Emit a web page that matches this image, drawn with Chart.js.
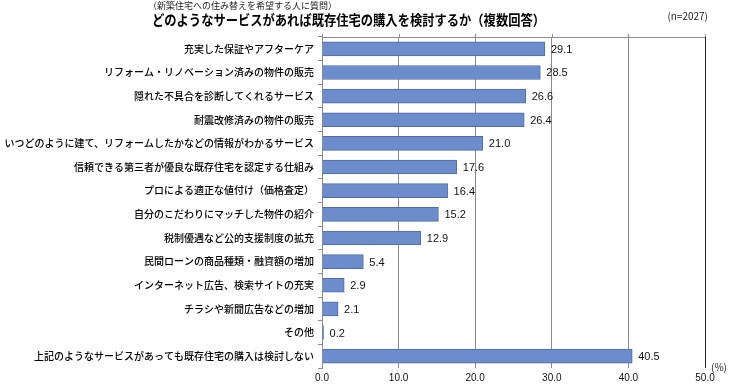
<!DOCTYPE html>
<html>
<head>
<meta charset="utf-8">
<script src="https://cdn.jsdelivr.net/npm/chart.js@4"></script>
<style>
  html, body { margin: 0; padding: 0; background: #fff; }
  #wrap { position: relative; width: 730px; height: 384px; }
</style>
</head>
<body>
<div id="wrap"><canvas id="chart" width="730" height="384"></canvas></div>
<script>
const categories = [
    '充実した保証やアフターケア',
    'リフォーム・リノベーション済みの物件の販売',
    '隠れた不具合を診断してくれるサービス',
    '耐震改修済みの物件の販売',
    'いつどのように建て、リフォームしたかなどの情報がわかるサービス',
    '信頼できる第三者が優良な既存住宅を認定する仕組み',
    'プロによる適正な値付け（価格査定）',
    '自分のこだわりにマッチした物件の紹介',
    '税制優遇など公的支援制度の拡充',
    '民間ローンの商品種類・融資額の増加',
    'インターネット広告、検索サイトの充実',
    'チラシや新聞広告などの増加',
    'その他',
    '上記のようなサービスがあっても既存住宅の購入は検討しない'
];
const values = [29.1, 28.5, 26.6, 26.4, 21.0, 17.6, 16.4, 15.2, 12.9, 5.4, 2.9, 2.1, 0.2, 40.5];
const xTicks = [0, 10, 20, 30, 40, 50];

const font = '"Noto Sans CJK JP", "Liberation Sans", sans-serif';

// value labels, titles, frame lines
const extras = {
    id: 'extras',
    afterDatasetsDraw(chart) {
        const ctx = chart.ctx;
        const area = chart.chartArea;
        const meta = chart.getDatasetMeta(0);
        ctx.save();
        ctx.fillStyle = '#111';
        ctx.font = '11px "Liberation Sans", Arial, sans-serif';
        ctx.textBaseline = 'middle';
        ctx.textAlign = 'left';
        meta.data.forEach((bar, i) => {
            ctx.fillText(values[i].toFixed(1), bar.x + 6, bar.y + 1);
        });

        // top line with small tick marks
        ctx.strokeStyle = '#8c8c8c';
        ctx.lineWidth = 1;
        ctx.beginPath();
        ctx.moveTo(area.left, area.top + 0.5);
        ctx.lineTo(area.right, area.top + 0.5);
        const xs = chart.scales.x;
        xTicks.forEach(t => {
            const px = Math.round(xs.getPixelForValue(t)) + 0.5;
            ctx.moveTo(px, area.top - 3);
            ctx.lineTo(px, area.top);
        });
        ctx.stroke();

        // right border
        ctx.strokeStyle = '#222';
        ctx.beginPath();
        ctx.moveTo(area.right + 0.5, area.top);
        ctx.lineTo(area.right + 0.5, area.bottom);
        ctx.stroke();

        // titles
        ctx.fillStyle = '#222';
        ctx.textBaseline = 'alphabetic';
        ctx.font = '9px ' + font;
        ctx.fillText('（新築住宅への住み替えを希望する人に質問）', 148, 9, 192);
        ctx.fillStyle = '#000';
        ctx.font = 'bold 14px ' + font;
        ctx.fillText('どのようなサービスがあれば既存住宅の購入を検討するか（複数回答）', 152, 25, 393);
        ctx.font = '10px ' + font;
        ctx.fillStyle = '#222';
        ctx.textAlign = 'right';
        ctx.fillText('(n=2027)', 708, 20);
        ctx.textAlign = 'left';
        ctx.fillText('(%)', 711, 371);
        ctx.restore();
    }
};

new Chart(document.getElementById('chart'), {
    type: 'bar',
    data: {
        labels: categories,
        datasets: [{
            data: values,
            backgroundColor: '#6c8ccc',
            borderColor: '#4d6ca8',
            borderWidth: 1,
            barThickness: 14
        }]
    },
    options: {
        indexAxis: 'y',
        responsive: false,
        animation: false,
        events: [],
        layout: { padding: { top: 37, right: 25, left: 0, bottom: 0 } },
        plugins: {
            legend: { display: false },
            tooltip: { enabled: false }
        },
        scales: {
            x: {
                min: 0,
                max: 50,
                afterBuildTicks(scale) {
                    scale.ticks = xTicks.map(v => ({ value: v }));
                },
                afterFit(scale) { scale.height = 16; },
                ticks: {
                    color: '#111',
                    padding: 4,
                    font: { family: '"Liberation Sans", Arial, sans-serif', size: 10 },
                    callback: v => Number(v).toFixed(1)
                },
                grid: {
                    color: '#8c8c8c',
                    drawTicks: false
                },
                border: { display: false }
            },
            y: {
                afterFit(scale) { scale.width = 322; },
                ticks: {
                    color: '#000',
                    padding: 4,
                    font: { family: font, size: 10, weight: '500' }
                },
                grid: {
                    drawOnChartArea: false,
                    color: '#8c8c8c',
                    tickLength: 4
                },
                border: { color: '#8c8c8c' }
            }
        }
    },
    plugins: [extras]
});
</script>
</body>
</html>
